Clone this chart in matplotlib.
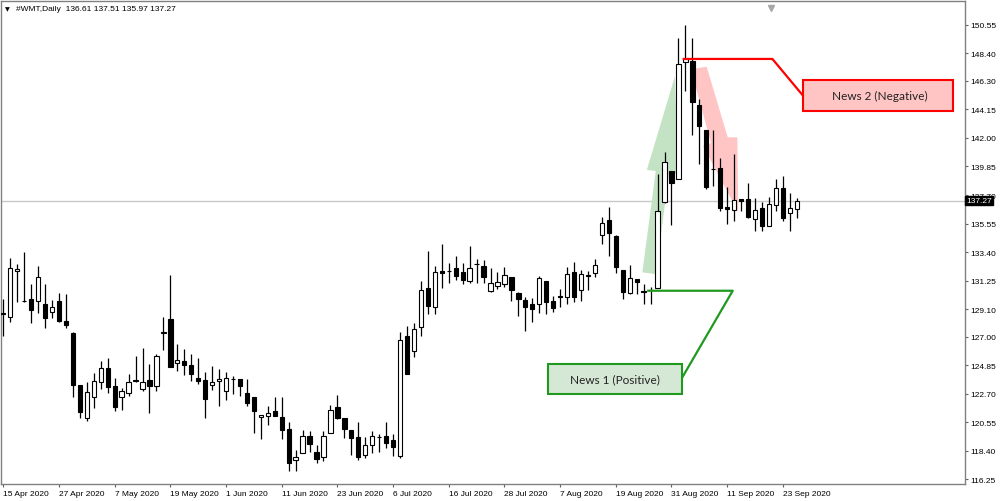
import matplotlib
matplotlib.use("Agg")
import matplotlib.pyplot as plt
from matplotlib.patches import Polygon, Rectangle
import matplotlib.transforms as mtransforms

# ---------------- data (WMT daily, 15 Apr 2020 - 25 Sep 2020) ----------------
opens = [128.80, 128.48, 131.94, 129.74, 129.83, 129.73, 129.48, 128.85, 129.71, 128.20,
         127.32, 123.38, 120.89, 122.45, 123.58, 124.66, 123.28, 122.45, 122.77, 123.72,
         123.09, 123.73, 123.33, 127.33, 128.33, 125.01, 125.18, 124.90, 123.93, 123.75,
         123.38, 123.66, 122.90, 123.84, 123.81, 122.75, 122.49, 120.94, 121.02, 121.44,
         120.94, 120.06, 117.70, 118.28, 119.56, 118.35, 117.95, 119.76, 121.70, 120.89,
         119.99, 119.44, 118.12, 118.86, 119.47, 119.51, 119.26, 118.05, 127.05, 125.94,
         127.77, 130.66, 129.28, 131.97, 132.00, 132.21, 131.91, 131.19, 132.52, 132.36,
         130.44, 130.81, 130.99, 131.49, 130.29, 129.78, 129.48, 129.48, 131.19, 129.68,
         130.05, 130.03, 131.87, 130.53, 131.57, 131.82, 134.68, 135.81, 134.63, 132.06,
         130.29, 131.36, 130.46, 130.55, 130.66, 137.14, 139.48, 138.90, 147.76, 147.81,
         144.47, 142.59, 139.67, 139.70, 136.81, 136.59, 137.39, 137.39, 135.88, 136.69,
         135.38, 136.96, 138.22, 136.34, 136.61]
highs = [129.86, 132.92, 132.49, 133.37, 130.99, 132.32, 130.99, 129.80, 130.31, 130.23,
         127.35, 123.40, 123.58, 124.26, 125.21, 125.39, 123.88, 123.15, 124.21, 125.58,
         126.16, 124.96, 125.71, 128.52, 131.66, 126.47, 126.09, 125.69, 125.41, 124.38,
         124.83, 124.58, 124.33, 124.08, 123.83, 123.83, 122.50, 121.13, 121.77, 122.45,
         122.49, 120.57, 118.48, 119.99, 119.93, 118.88, 119.89, 121.87, 122.62, 120.90,
         120.00, 120.57, 119.44, 119.93, 119.69, 120.57, 119.69, 127.39, 127.84, 128.03,
         131.23, 133.50, 132.36, 134.00, 132.57, 133.07, 132.57, 133.87, 132.87, 132.82,
         132.17, 131.87, 132.24, 131.50, 130.36, 129.98, 129.93, 131.61, 131.20, 130.11,
         130.61, 132.24, 132.67, 132.06, 131.94, 132.87, 136.01, 136.76, 134.65, 132.07,
         132.44, 131.37, 130.99, 130.76, 139.27, 140.98, 139.50, 149.52, 150.50, 149.57,
         144.92, 142.60, 142.59, 140.46, 138.32, 140.83, 137.40, 138.60, 137.47, 137.14,
         137.52, 138.90, 139.10, 137.84, 137.51]
lows = [127.07, 128.15, 129.65, 129.62, 128.03, 128.80, 127.67, 128.45, 128.10, 127.65,
        122.45, 120.89, 120.64, 121.62, 123.08, 122.77, 121.39, 121.49, 122.57, 123.62,
        122.95, 121.24, 122.95, 126.04, 124.70, 124.46, 124.15, 123.66, 123.45, 120.89,
        123.02, 121.82, 122.27, 122.70, 122.53, 121.77, 119.76, 119.31, 120.39, 121.00,
        119.31, 116.87, 116.87, 118.26, 118.31, 117.48, 117.63, 119.74, 120.82, 119.38,
        118.12, 117.75, 117.86, 118.25, 118.35, 118.61, 118.01, 117.90, 124.20, 125.49,
        127.10, 128.73, 128.73, 130.66, 131.06, 131.31, 130.99, 131.06, 131.04, 131.06,
        130.36, 130.61, 130.74, 129.73, 128.55, 127.47, 128.10, 128.80, 128.73, 128.85,
        129.22, 129.48, 129.61, 129.73, 130.53, 131.49, 134.00, 133.07, 131.82, 129.86,
        130.23, 130.23, 129.48, 129.48, 130.65, 137.13, 135.43, 138.89, 145.55, 142.21,
        140.03, 138.14, 138.39, 136.51, 135.51, 135.76, 136.47, 135.93, 135.00, 134.96,
        135.33, 136.47, 135.71, 134.96, 135.97]
closes = [128.73, 132.17, 132.09, 129.68, 129.00, 131.49, 128.40, 129.28, 128.22, 127.90,
          123.40, 121.32, 122.83, 123.66, 124.66, 123.25, 121.74, 122.90, 123.58, 123.68,
          123.58, 123.30, 125.56, 127.37, 124.73, 125.28, 124.86, 124.21, 123.70, 122.32,
          123.58, 123.85, 123.88, 123.81, 123.33, 122.00, 121.39, 121.12, 121.24, 121.02,
          119.99, 117.52, 117.95, 119.56, 118.93, 117.80, 119.56, 121.52, 120.89, 120.06,
          119.36, 117.93, 118.86, 119.56, 119.44, 119.01, 118.68, 126.79, 124.21, 127.60,
          130.53, 129.31, 131.91, 131.82, 131.97, 131.57, 131.29, 132.17, 132.46, 131.49,
          131.04, 131.11, 131.66, 130.53, 129.86, 129.28, 129.10, 131.42, 129.65, 129.18,
          130.00, 131.74, 129.98, 131.74, 131.69, 132.44, 135.56, 134.81, 132.24, 130.41,
          131.44, 131.11, 130.41, 130.50, 136.46, 140.20, 138.57, 147.61, 147.94, 144.72,
          142.87, 138.27, 139.63, 136.71, 136.64, 137.34, 137.26, 136.06, 136.59, 135.33,
          137.01, 138.20, 135.93, 136.69, 137.27]

date_tick_idx = [0, 8, 16, 24, 32, 40, 48, 56, 64, 72, 80, 88, 96, 104, 112]
date_tick_labels = ["15 Apr 2020", "27 Apr 2020", "7 May 2020", "19 May 2020", "1 Jun 2020",
                    "11 Jun 2020", "23 Jun 2020", "6 Jul 2020", "16 Jul 2020", "28 Jul 2020",
                    "7 Aug 2020", "19 Aug 2020", "31 Aug 2020", "11 Sep 2020", "23 Sep 2020"]
price_ticks = [150.55, 148.40, 146.30, 144.15, 142.00, 139.85, 137.70, 135.55, 133.40,
               131.25, 129.10, 127.00, 124.85, 122.70, 120.55, 118.40, 116.25]
last_price = 137.27
header = "#WMT,Daily  136.61 137.51 135.97 137.27"

# annotation shapes (bar index, price)
green_arrow = [(91.81, 131.87), (93.74, 131.73), (95.66, 139.38), (96.94, 139.29),
               (96.51, 146.68), (92.46, 139.59), (93.74, 139.51)]
red_arrow = [(98.80, 147.19), (101.06, 147.37), (104.08, 142.05), (105.46, 142.05),
             (105.60, 136.42), (100.53, 141.39), (101.68, 141.62)]
green_line_x = [92.5, 104.8, 97.5]
green_line_y = [130.48, 130.48, 123.90]
red_line_x = [97.6, 110.5, 114.9]
red_line_y = [147.96, 147.96, 145.19]
news1_box = (78.3, 122.69, 97.5, 124.955)   # x0, y0, x1, y1
news2_box = (114.9, 144.06, 136.5, 146.37)

# ---------------- figure ----------------
W, H = 1000, 502
fig = plt.figure(figsize=(W / 100, H / 100), dpi=100)
fig.patch.set_facecolor("white")
ax = fig.add_axes([1 / W, (H - 484.7) / H, 964 / W, (484.7 - 2) / H])
ax.set_facecolor("white")

n = len(opens)
xs = list(range(n))
ax.set_xlim(-0.33, 138.17)
ax.set_ylim(115.93, 152.33)

# current price line
ax.axhline(last_price, color="#c8c8c8", lw=1.0, zorder=0.5)

# arrows (under candles)
ax.add_patch(Polygon(green_arrow, closed=True, facecolor="#c4e3c4", edgecolor="none", zorder=1))
ax.add_patch(Polygon(red_arrow, closed=True, facecolor="#ffc4c4", edgecolor="none", zorder=1))

# candles
ax.vlines(xs, lows, highs, color="black", lw=0.9, zorder=2)
bw = 0.62
for i in xs:
    o, c = opens[i], closes[i]
    bottom = min(o, c)
    h = abs(c - o)
    if h < 0.02:
        h = 0.02
    fc = "white" if c > o else "black"
    ax.add_patch(Rectangle((i - bw / 2, bottom), bw, h, facecolor=fc,
                           edgecolor="black", lw=0.8, zorder=3))

# annotation lines
ax.plot(green_line_x, green_line_y, color="#1f9a1f", lw=1.6, zorder=4, solid_capstyle="butt")
ax.plot(red_line_x, red_line_y, color="#ff0000", lw=1.6, zorder=4, solid_capstyle="butt")

# annotation boxes
x0, y0, x1, y1 = news1_box
ax.add_patch(Rectangle((x0, y0), x1 - x0, y1 - y0, facecolor="#d5e8d5",
                       edgecolor="#1f9a1f", lw=1.5, zorder=5))
ax.text((x0 + x1) / 2, (y0 + y1) / 2, "News 1 (Positive)", ha="center", va="center",
        fontsize=8.5, family="Lato", color="#222222", zorder=6)
x0, y0, x1, y1 = news2_box
ax.add_patch(Rectangle((x0, y0), x1 - x0, y1 - y0, facecolor="#ffc4c4",
                       edgecolor="#ff0000", lw=1.5, zorder=5))
ax.text((x0 + x1) / 2 + 0.3, (y0 + y1) / 2, "News 2 (Negative)", ha="center", va="center",
        fontsize=8.5, family="Lato", color="#222222", zorder=6)

# axes styling
for s in ax.spines.values():
    s.set_color("#808080")
    s.set_linewidth(1.0)

ax.yaxis.tick_right()
ax.set_yticks(price_ticks)
ax.set_yticklabels([f"{v:.2f}" for v in price_ticks])
ax.tick_params(axis="y", length=2.5, pad=1.5, labelsize=6, colors="black",
               width=0.8, color="#606060")
ax.set_xticks(date_tick_idx)
ax.set_xticklabels(date_tick_labels)
ax.tick_params(axis="x", length=2.5, pad=2.0, labelsize=6, colors="black",
               width=0.8, color="#606060")
for lab in ax.get_xticklabels():
    lab.set_ha("left")
for lab in ax.get_xticklabels() + ax.get_yticklabels():
    lab.set_family("Liberation Sans")

# last price label on the price scale
trans = mtransforms.blended_transform_factory(ax.transAxes, ax.transData)
ax.text(1.0015, last_price, f"{last_price:.2f}", transform=trans, ha="left", va="center",
        fontsize=6, family="Liberation Sans", color="white", zorder=10, clip_on=False,
        bbox=dict(boxstyle="square,pad=0.15", facecolor="black", edgecolor="black"))

# chart-shift marker at top
ax.plot([110.3], [0.985], transform=mtransforms.blended_transform_factory(ax.transData, ax.transAxes),
        marker="v", markersize=4, color="#a8a8a8", clip_on=False, zorder=10)

# header
fig.text(5 / W, 1 - 9.5 / H, "\u25bc", fontsize=4.5, va="center", ha="left", color="black")
fig.text(16 / W, 1 - 9.5 / H, header, fontsize=6, va="center", ha="left",
         family="Liberation Sans", color="black")

fig.savefig("out.png", dpi=100, facecolor="white")
